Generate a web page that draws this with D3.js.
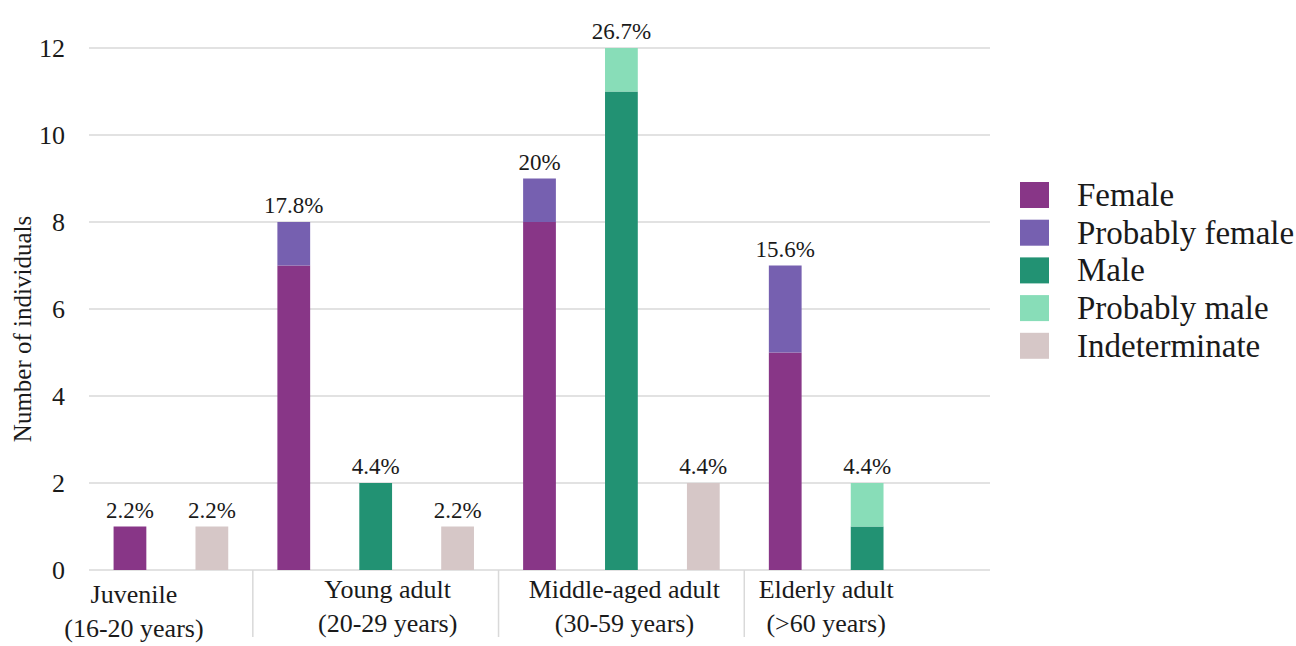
<!DOCTYPE html>
<html>
<head>
<meta charset="utf-8">
<script src="https://cdn.jsdelivr.net/npm/d3@7"></script>
</head>
<body style="margin:0">
<div id="chart"></div>
<script>
// one slot per bar, in drawing order
var slots = ["J-F", "J-I", "Y-F", "Y-M", "Y-I", "M-F", "M-M", "M-I", "E-F", "E-M", "E-I"];
var female        = [1, 0, 7, 0, 0, 8, 0, 0, 5, 0, 0];
var probFemale    = [0, 0, 1, 0, 0, 1, 0, 0, 2, 0, 0];
var male          = [0, 0, 0, 2, 0, 0, 11, 0, 0, 1, 0];
var probMale      = [0, 0, 0, 0, 0, 0, 1, 0, 0, 1, 0];
var indeterminate = [0, 1, 0, 0, 1, 0, 0, 2, 0, 0, 0];
var pctLabels = ["2.2%", "2.2%", "17.8%", "4.4%", "2.2%", "20%", "26.7%", "4.4%", "15.6%", "4.4%", ""];

var groupNames = ["Juvenile", "Young adult", "Middle-aged adult", "Elderly adult"];
var groupRanges = ["(16-20 years)", "(20-29 years)", "(30-59 years)", "(>60 years)"];
var groupSlots = [[0, 2], [2, 5], [5, 8], [8, 11]];

var seriesNames = ["Female", "Probably female", "Male", "Probably male", "Indeterminate"];
var seriesColors = ["#883687", "#7660b0", "#229273", "#88ddb8", "#d6c7c7"];
var yTicks = [0, 2, 4, 6, 8, 10, 12];

// label placement tweaks (layout only)
var labelDx = [-37, 12, 3, -41];
var labelDy = [5, 0, 0, 0];

var width = 1296, height = 646;
var margin = {left: 89, right: 306, top: 48, bottom: 76};

var svg = d3.select("#chart").append("svg")
    .attr("width", width).attr("height", height)
    .style("font-family", "'Liberation Serif'");

function serif(sel, size) {
    sel.attr("font-family", "Liberation Serif")
        .style("font-family", "'Liberation Serif'")
        .style("font-size", size + "px")
        .attr("fill", "#1a1a1a");
    return sel;
}

var x = d3.scaleBand().domain(slots)
    .range([margin.left, width - margin.right])
    .paddingInner(0.6).paddingOuter(0.3);
var y = d3.scaleLinear().domain([0, 12]).range([height - margin.bottom, margin.top]);

// gridlines
svg.append("g").selectAll("line").data(yTicks).enter().append("line")
    .attr("x1", margin.left).attr("x2", width - margin.right)
    .attr("y1", function (d) { return y(d); }).attr("y2", function (d) { return y(d); })
    .attr("stroke", "#d9d9d9").attr("stroke-width", 1.5);

// y tick labels
svg.append("g").selectAll("text").data(yTicks).enter().append("text")
    .attr("x", 65).attr("y", function (d) { return y(d); })
    .attr("dy", "0.34em")
    .attr("text-anchor", "end")
    .call(serif, 26)
    .text(function (d) { return d; });

svg.append("text")
    .attr("transform", "translate(31," + 329 + ") rotate(-90)")
    .attr("text-anchor", "middle")
    .call(serif, 25)
    .text("Number of individuals");

// stacked bars
var table = slots.map(function (s, i) {
    return {slot: s, "Female": female[i], "Probably female": probFemale[i], "Male": male[i],
        "Probably male": probMale[i], "Indeterminate": indeterminate[i]};
});
var stacked = d3.stack().keys(seriesNames)(table);

var layer = svg.append("g").selectAll("g").data(stacked).enter().append("g")
    .attr("fill", function (d, i) { return seriesColors[i]; });

layer.selectAll("rect").data(function (d) { return d.filter(function (p) { return p[1] > p[0]; }); })
    .enter().append("rect")
    .attr("x", function (d) { return x(d.data.slot); })
    .attr("width", x.bandwidth())
    .attr("y", function (d) { return y(d[1]); })
    .attr("height", function (d) { return y(d[0]) - y(d[1]); });

// percentage labels
svg.append("g").selectAll("text").data(table).enter().append("text")
    .attr("x", function (d) { return x(d.slot) + x.bandwidth() / 2; })
    .attr("y", function (d, i) {
        var total = female[i] + probFemale[i] + male[i] + probMale[i] + indeterminate[i];
        return y(total) - 9;
    })
    .attr("text-anchor", "middle")
    .call(serif, 23)
    .text(function (d, i) { return pctLabels[i]; });

// group separators and labels
var pad = x.step() * x.paddingInner() / 2;
svg.append("g").selectAll("line").data(groupSlots.slice(1)).enter().append("line")
    .attr("x1", function (d) { return x(slots[d[0]]) - pad; })
    .attr("x2", function (d) { return x(slots[d[0]]) - pad; })
    .attr("y1", y(0)).attr("y2", y(0) + 67)
    .attr("stroke", "#d9d9d9").attr("stroke-width", 1.5);

var glabel = svg.append("g").selectAll("text").data(groupSlots).enter().append("text")
    .attr("text-anchor", "middle")
    .call(serif, 26)
    .attr("transform", function (d, i) {
        var x0 = x(slots[d[0]]) - pad, x1 = x(slots[d[1] - 1]) + x.bandwidth() + pad;
        return "translate(" + ((x0 + x1) / 2 + labelDx[i]) + "," + (y(0) + 28 + labelDy[i]) + ")";
    });
glabel.append("tspan").attr("x", 0).attr("y", 0).text(function (d, i) { return groupNames[i]; });
glabel.append("tspan").attr("x", 0).attr("y", 34).text(function (d, i) { return groupRanges[i]; });

// legend
var legend = svg.append("g").selectAll("g").data(seriesNames).enter().append("g")
    .attr("transform", function (d, i) { return "translate(1020," + (182 + i * 37.7) + ")"; });
legend.append("rect").attr("width", 29).attr("height", 26)
    .attr("fill", function (d, i) { return seriesColors[i]; });
legend.append("text").attr("x", 57).attr("y", 24)
    .call(serif, 33)
    .text(function (d) { return d; });
</script>
</body>
</html>
